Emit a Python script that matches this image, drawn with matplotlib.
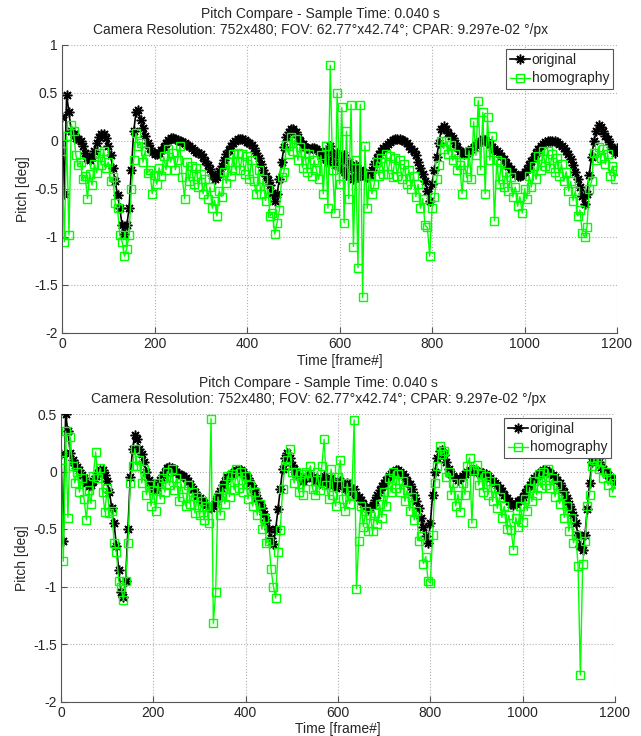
import matplotlib
matplotlib.use("Agg")
import matplotlib.pyplot as plt

plt.rcParams['font.family'] = ['Liberation Sans', 'DejaVu Sans']

# frame index (every 5th frame)
frames = list(range(0, 1201, 5))

top_original = [
    0.25, -0.55, 0.48, 0.30, 0.10, 0.07, 0.03, 0.02, 0.00, -0.05, -0.12, -0.18, -0.20, -0.17, -0.10, -0.02, 0.04, 0.07, 0.07, 0.03,
    -0.05, -0.15, -0.28, -0.42, -0.56, -0.70, -0.88, -0.97, -0.88, -0.70, -0.30, 0.10, 0.30, 0.32, 0.22, 0.14, 0.05, -0.02, -0.07, -0.11,
    -0.14, -0.14, -0.12, -0.09, -0.06, -0.02, 0.01, 0.03, 0.03, 0.02, 0.01, 0.00, -0.01, -0.02, -0.04, -0.05, -0.07, -0.09, -0.11, -0.13,
    -0.14, -0.17, -0.21, -0.25, -0.29, -0.35, -0.40, -0.37, -0.31, -0.26, -0.20, -0.14, -0.09, -0.05, -0.02, 0.00, 0.02, 0.02, 0.02, 0.01,
    -0.01, -0.02, -0.04, -0.07, -0.12, -0.18, -0.24, -0.30, -0.36, -0.41, -0.46, -0.54, -0.62, -0.55, -0.40, -0.22, -0.06, 0.04, 0.09, 0.12,
    0.12, 0.09, 0.04, 0.00, -0.03, -0.06, -0.07, -0.08, -0.07, -0.07, -0.08, -0.10, -0.12, -0.18, -0.10, -0.22, -0.05, -0.15, -0.25, -0.12,
    -0.20, -0.30, -0.15, -0.35, -0.22, -0.28, -0.40, -0.25, -0.38, -0.30, -0.32, -0.36, -0.38, -0.35, -0.30, -0.24, -0.18, -0.14, -0.10, -0.07,
    -0.05, -0.03, -0.01, 0.01, 0.02, 0.02, 0.02, 0.01, 0.00, -0.02, -0.05, -0.08, -0.10, -0.15, -0.22, -0.28, -0.34, -0.42, -0.52, -0.62,
    -0.45, -0.30, -0.17, -0.02, 0.12, 0.16, 0.12, 0.08, 0.05, 0.03, -0.02, -0.06, -0.10, -0.13, -0.14, -0.12, -0.10, -0.08, -0.06, -0.04,
    -0.02, 0.00, 0.02, 0.01, -0.01, -0.03, -0.06, -0.08, -0.10, -0.13, -0.16, -0.19, -0.23, -0.26, -0.29, -0.32, -0.34, -0.36, -0.36, -0.35,
    -0.32, -0.29, -0.25, -0.21, -0.17, -0.12, -0.08, -0.05, -0.03, -0.01, 0.00, 0.00, 0.00, 0.00, -0.01, -0.03, -0.05, -0.07, -0.10, -0.14,
    -0.19, -0.25, -0.32, -0.40, -0.48, -0.57, -0.66, -0.55, -0.35, -0.17, 0.00, 0.10, 0.17, 0.15, 0.10, 0.05, 0.02, -0.03, -0.08, -0.12,
    -0.07,
]

top_homography = [
    -0.10, -1.05, 0.05, -0.98, 0.17, 0.10, -0.15, -0.25, -0.22, -0.40, -0.36, -0.60, -0.34, -0.46, -0.24, -0.33, -0.12, -0.25, -0.10, -0.28,
    -0.22, -0.42, -0.38, -0.65, -0.70, -0.98, -1.05, -1.20, -1.12, -0.98, -0.50, -0.20, 0.08, -0.05, -0.02, -0.22, -0.10, -0.33, -0.30, -0.55,
    -0.35, -0.45, -0.28, -0.36, -0.16, -0.30, -0.08, -0.22, -0.12, -0.30, -0.20, -0.05, -0.38, -0.60, -0.22, -0.42, -0.26, -0.45, -0.28, -0.48,
    -0.34, -0.55, -0.40, -0.60, -0.48, -0.70, -0.62, -0.78, -0.52, -0.58, -0.32, -0.44, -0.22, -0.36, -0.14, -0.30, -0.12, -0.30, -0.14, -0.34,
    -0.16, -0.40, -0.20, -0.42, -0.55, -0.30, -0.55, -0.40, -0.62, -0.50, -0.78, -0.75, -0.97, -0.85, -0.72, -0.38, -0.32, -0.04, -0.14, 0.04,
    -0.10, 0.02, -0.20, -0.06, -0.28, -0.12, -0.32, -0.14, -0.36, -0.20, -0.30, -0.40, -0.15, -0.55, -0.05, -0.70, 0.79, -0.30, -0.75, 0.50,
    -0.45, 0.35, -0.85, 0.10, -0.60, 0.38, -1.10, -0.20, -1.32, 0.38, -1.63, -0.05, -0.70, -0.35, -0.55, -0.45, -0.22, -0.36, -0.18, -0.34,
    -0.14, -0.34, -0.16, -0.38, -0.18, -0.36, -0.20, -0.40, -0.24, -0.45, -0.30, -0.50, -0.36, -0.58, -0.45, -0.70, -0.60, -0.88, -0.90, -1.20,
    -0.70, -0.58, -0.40, -0.25, 0.00, -0.08, 0.00, -0.14, -0.04, -0.20, -0.14, -0.30, -0.25, -0.55, -0.22, -0.38, -0.10, -0.40, 0.20, -0.15,
    0.42, -0.30, 0.30, -0.55, 0.25, -0.20, 0.05, -0.83, -0.20, -0.45, -0.22, -0.48, -0.32, -0.52, -0.38, -0.58, -0.48, -0.68, -0.58, -0.75,
    -0.50, -0.60, -0.36, -0.48, -0.26, -0.40, -0.16, -0.30, -0.10, -0.26, -0.10, -0.28, -0.14, -0.32, -0.18, -0.36, -0.24, -0.42, -0.32, -0.52,
    -0.42, -0.62, -0.52, -0.78, -0.72, -0.96, -1.00, -0.90, -0.50, -0.42, -0.12, -0.20, -0.06, -0.18, -0.08, -0.24, -0.14, -0.36, -0.26, -0.40,
    -0.30,
]

bottom_original = [
    0.15, -0.60, 0.50, 0.35, 0.16, 0.10, 0.06, 0.04, 0.01, -0.03, -0.06, -0.10, -0.13, -0.12, -0.08, -0.04, -0.01, 0.01, 0.01, -0.03,
    -0.08, -0.18, -0.32, -0.45, -0.65, -0.86, -1.05, -1.09, -0.95, -0.50, -0.05, 0.20, 0.32, 0.28, 0.20, 0.15, 0.08, 0.00, -0.07, -0.12,
    -0.15, -0.16, -0.12, -0.07, -0.03, 0.00, 0.03, 0.04, 0.03, 0.02, 0.00, -0.02, -0.03, -0.04, -0.06, -0.08, -0.11, -0.15, -0.18, -0.21,
    -0.23, -0.25, -0.27, -0.29, -0.31, -0.32, -0.30, -0.26, -0.21, -0.17, -0.12, -0.08, -0.05, -0.03, -0.02, 0.00, 0.01, 0.01, 0.01, 0.00,
    -0.03, -0.06, -0.10, -0.14, -0.18, -0.23, -0.28, -0.32, -0.37, -0.42, -0.50, -0.58, -0.63, -0.50, -0.33, -0.15, 0.02, 0.12, 0.16, 0.12,
    0.06, 0.02, -0.02, -0.04, -0.06, -0.08, -0.06, -0.04, -0.03, -0.05, -0.08, -0.06, -0.10, -0.07, -0.04, -0.08, -0.12, -0.06, -0.10, -0.14,
    -0.10, -0.08, -0.12, -0.15, -0.10, -0.14, -0.18, -0.15, -0.20, -0.22, -0.25, -0.28, -0.31, -0.33, -0.32, -0.29, -0.25, -0.20, -0.16, -0.13,
    -0.10, -0.07, -0.04, -0.02, 0.00, 0.01, 0.01, 0.00, -0.02, -0.05, -0.08, -0.11, -0.15, -0.20, -0.26, -0.32, -0.40, -0.48, -0.56, -0.62,
    -0.45, -0.20, 0.00, 0.12, 0.18, 0.19, 0.14, 0.08, 0.02, -0.02, -0.04, -0.06, -0.07, -0.06, -0.04, -0.02, 0.00, 0.01, 0.01, 0.01,
    0.00, 0.00, -0.01, -0.01, -0.02, -0.04, -0.06, -0.08, -0.10, -0.12, -0.14, -0.17, -0.20, -0.23, -0.26, -0.28, -0.29, -0.28, -0.26, -0.25,
    -0.22, -0.19, -0.15, -0.12, -0.09, -0.06, -0.04, -0.02, 0.00, 0.01, 0.01, 0.00, -0.01, -0.03, -0.05, -0.07, -0.10, -0.14, -0.18, -0.23,
    -0.28, -0.33, -0.38, -0.45, -0.55, -0.65, -0.68, -0.55, -0.33, -0.10, 0.08, 0.13, 0.12, 0.08, 0.04, 0.02, 0.00, -0.03, -0.05, -0.07,
    -0.07,
]

bottom_homography = [
    0.10, -0.78, 0.35, -0.40, 0.30, 0.05, -0.10, 0.00, -0.18, -0.06, -0.24, -0.42, -0.16, -0.28, -0.04, 0.17, -0.06, 0.03, -0.18, -0.35,
    -0.14, -0.36, -0.34, -0.62, -0.70, -0.95, -1.00, -1.12, -0.95, -0.62, -0.10, 0.05, 0.20, 0.05, 0.10, -0.10, 0.02, -0.20, -0.12, -0.30,
    -0.16, -0.34, -0.10, -0.24, -0.06, -0.18, 0.00, -0.12, 0.02, -0.16, -0.06, -0.26, -0.10, -0.22, -0.30, -0.12, -0.28, -0.18, -0.36, -0.22,
    -0.38, -0.26, -0.42, -0.30, -0.45, 0.46, -1.32, -1.05, -0.22, -0.38, -0.14, -0.28, -0.04, -0.22, -0.02, -0.16, 0.02, -0.14, 0.00, -0.18,
    -0.04, -0.24, -0.12, -0.30, -0.18, -0.38, -0.28, -0.50, -0.40, -0.62, -0.60, -0.85, -1.00, -1.10, -0.70, -0.51, -0.15, 0.05, 0.10, 0.20,
    0.00, -0.10, 0.00, -0.18, -0.02, -0.20, 0.00, -0.08, 0.05, -0.15, -0.20, 0.00, -0.16, 0.05, 0.28, -0.12, -0.24, 0.02, -0.20, -0.30,
    -0.05, 0.10, -0.24, -0.34, -0.10, -0.28, -0.20, 0.45, -1.02, -0.60, -0.30, -0.48, -0.34, -0.52, -0.38, -0.52, -0.36, -0.46, -0.28, -0.40,
    -0.18, -0.30, -0.06, -0.18, 0.00, -0.14, -0.02, -0.18, -0.08, -0.26, -0.16, -0.34, -0.22, -0.42, -0.34, -0.60, -0.56, -0.80, -0.74, -0.95,
    -0.97, -0.55, -0.10, 0.05, 0.22, 0.15, 0.18, -0.05, 0.00, -0.20, -0.10, -0.30, -0.20, -0.35, -0.10, -0.20, 0.05, 0.12, -0.45, 0.01,
    0.06, -0.12, -0.02, -0.18, -0.04, -0.20, -0.08, -0.26, -0.14, -0.32, -0.22, -0.40, -0.30, -0.50, -0.38, -0.51, -0.68, -0.40, -0.48, -0.30,
    -0.44, -0.24, -0.34, -0.14, -0.26, -0.08, -0.20, -0.02, -0.14, 0.00, -0.12, 0.02, -0.14, -0.06, -0.22, -0.12, -0.28, -0.20, -0.40, -0.30,
    -0.52, -0.40, -0.62, -0.55, -0.82, -1.77, -0.80, -0.60, -0.30, -0.20, 0.05, 0.10, 0.13, 0.02, 0.08, -0.06, 0.00, -0.12, -0.06, -0.18,
    -0.10,
]

title_lines = ["Pitch Compare - Sample Time: 0.040 s",
               "Camera Resolution: 752x480; FOV: 62.77°x42.74°; CPAR: 9.297e-02 °/px"]
legend_labels = ["original", "homography"]
xticks = [0, 200, 400, 600, 800, 1000, 1200]
top_yticks = [-2, -1.5, -1, -0.5, 0, 0.5, 1]
bottom_yticks = [-2, -1.5, -1, -0.5, 0, 0.5]

GREEN = '#00ff00'
FS = 10
TXT = '#262626'
ASTERISK = (8, 2, 0)

fig = plt.figure(figsize=(6.41, 7.36), dpi=100)
ax1 = fig.add_axes([62/641, (736-333)/736, 555/641, 288/736])
ax2 = fig.add_axes([61/641, (736-701.5)/736, 554/641, 287.5/736])

for ax, orig, homo, yt, yl, tx in [(ax1, top_original, top_homography, top_yticks, (-2, 1), 0.466),
                                    (ax2, bottom_original, bottom_homography, bottom_yticks, (-2, 0.5), 0.465)]:
    ax.plot(frames, orig, color='k', marker=ASTERISK, markersize=7, markeredgewidth=1.1,
            linewidth=1.2, label=legend_labels[0])
    ax.plot(frames, homo, color=GREEN, marker='s', markersize=6, markerfacecolor='none',
            markeredgewidth=1.0, linewidth=1.0, label=legend_labels[1])
    ax.set_xlim(0, 1200)
    ax.set_ylim(*yl)
    ax.set_xticks(xticks)
    ax.set_yticks(yt)
    ax.set_yticklabels([('%g' % t) for t in yt])
    ax.grid(True, linestyle=':', color='#b0b0b0', linewidth=0.8)
    ax.set_axisbelow(True)
    for s in ['top', 'right']:
        ax.spines[s].set_visible(False)
    for s in ['left', 'bottom']:
        ax.spines[s].set_color('#555555')
    ax.tick_params(direction='in', length=4, color='#555555', labelsize=FS, pad=3,
                   labelcolor=TXT)
    ax.set_xlabel("Time [frame#]", fontsize=FS, labelpad=2, color=TXT)
    ax.set_ylabel("Pitch [deg]", fontsize=FS, labelpad=3, color=TXT)
    ax.set_title("\n".join(title_lines), fontsize=FS, pad=8, linespacing=1.2, color=TXT, x=tx)
    leg = ax.legend(loc='upper right', fontsize=FS, handlelength=1.5, handletextpad=0.1,
                    borderpad=0.25, labelspacing=0.35, fancybox=False, framealpha=1,
                    borderaxespad=0.3)
    leg.get_frame().set_edgecolor('#555555')
    leg.get_frame().set_linewidth(0.8)
    for t in leg.get_texts():
        t.set_color(TXT)

fig.savefig("out.png", dpi=100)
